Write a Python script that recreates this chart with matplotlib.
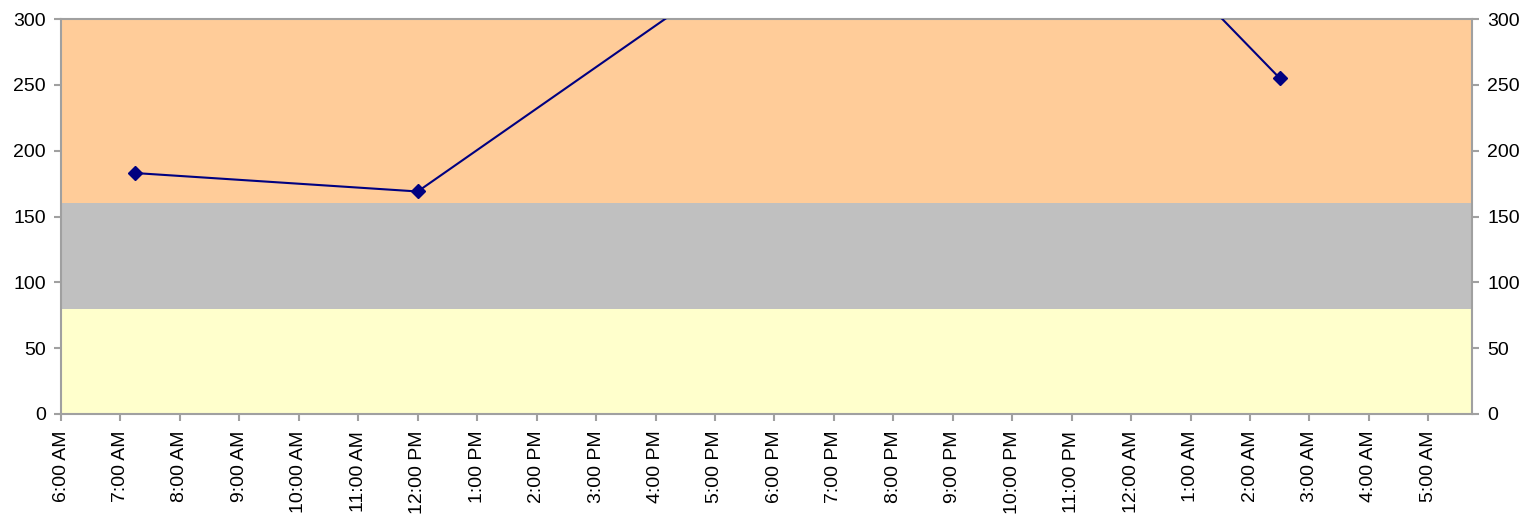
import matplotlib
matplotlib.use("Agg")
import matplotlib.pyplot as plt
import matplotlib.dates as mdates
import pandas as pd

# ---- data ----
point_times = ["2000-01-01 07:15", "2000-01-01 12:00", "2000-01-01 21:45", "2000-01-02 02:30"]
point_values = [183, 169, 476, 255]

band_edges = [0, 80, 160, 300]
band_colors = ["#FFFFCC", "#C0C0C0", "#FFCC99"]

axis_start = "2000-01-01 06:00"
axis_end = "2000-01-02 05:44"
tick_times = pd.date_range("2000-01-01 06:00", periods=24, freq="h")
tick_labels = ["6:00 AM", "7:00 AM", "8:00 AM", "9:00 AM", "10:00 AM", "11:00 AM",
               "12:00 PM", "1:00 PM", "2:00 PM", "3:00 PM", "4:00 PM", "5:00 PM",
               "6:00 PM", "7:00 PM", "8:00 PM", "9:00 PM", "10:00 PM", "11:00 PM",
               "12:00 AM", "1:00 AM", "2:00 AM", "3:00 AM", "4:00 AM", "5:00 AM"]
y_ticks = [0, 50, 100, 150, 200, 250, 300]

plt.rcParams['font.family'] = ['Liberation Sans', 'DejaVu Sans']

fig = plt.figure(figsize=(15.3, 5.17), dpi=100)
ax = fig.add_axes([61 / 1530, 1 - 414 / 517, (1472 - 61) / 1530, (414 - 19) / 517])

x0 = mdates.date2num(pd.Timestamp(axis_start))
x1 = mdates.date2num(pd.Timestamp(axis_end))

for lo, hi, c in zip(band_edges[:-1], band_edges[1:], band_colors):
    ax.axhspan(lo, hi, color=c, lw=0, zorder=0)

xs = mdates.date2num(pd.to_datetime(point_times))
ax.plot(xs, point_values, color="#000080", lw=1.5, marker="D", markersize=7.5,
        markerfacecolor="#000080", markeredgecolor="#000080", zorder=3)

ax.set_xlim(x0, x1)
ax.set_ylim(0, 300)
ax.set_yticks(y_ticks)
ax.set_xticks(mdates.date2num(tick_times))
ax.set_xticklabels(tick_labels, rotation=90, va="top", ha="center")

grey = "#A0A0A0"
for s in ax.spines.values():
    s.set_color(grey)
    s.set_linewidth(1.5)

ax.tick_params(axis="y", which="both", left=True, right=True, labelleft=True,
               labelright=True, direction="out", length=5, width=1.5, color=grey,
               labelsize=14, pad=6)
ax.tick_params(axis="x", direction="out", length=5, width=1.5, color=grey,
               labelsize=14, pad=7)

fig.savefig("out.png", dpi=100)
